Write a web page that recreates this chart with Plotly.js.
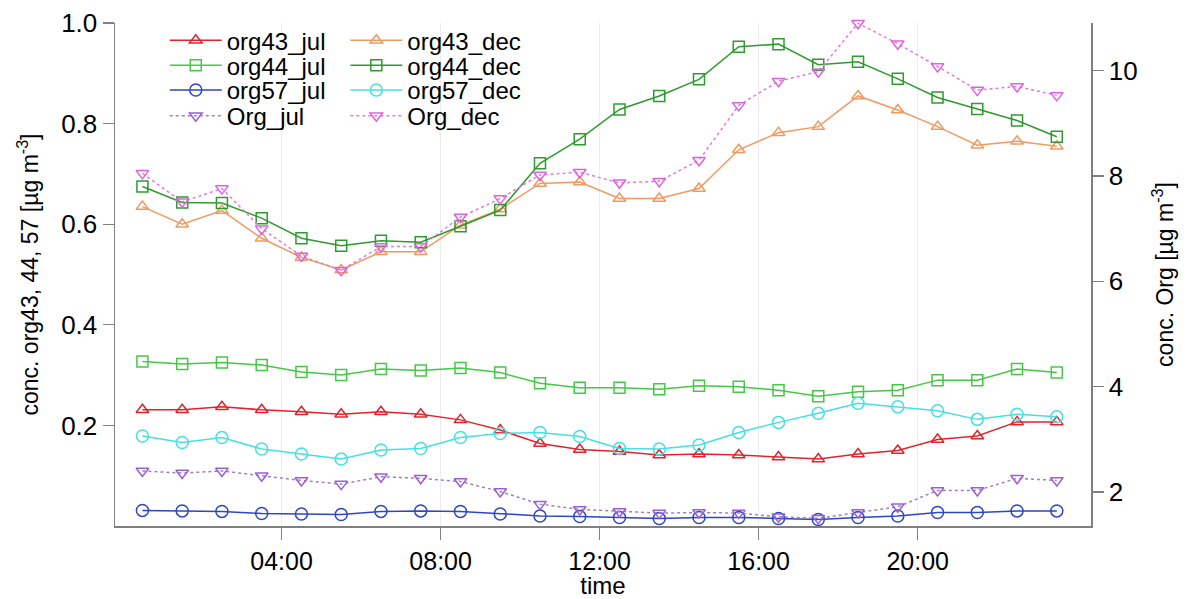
<!DOCTYPE html>
<html>
<head>
<meta charset="utf-8">
<script src="https://cdn.plot.ly/plotly-3.0.1.min.js"></script>
<style>
  html, body { margin: 0; padding: 0; background: #ffffff; }
  #chart { width: 1191px; height: 599px; }
</style>
</head>
<body>
<div id="chart"></div>
<script>
// Hour of day (half-hour bin centres)
const hours = [0.5, 1.5, 2.5, 3.5, 4.5, 5.5, 6.5, 7.5, 8.5, 9.5, 10.5, 11.5,
               12.5, 13.5, 14.5, 15.5, 16.5, 17.5, 18.5, 19.5, 20.5, 21.5, 22.5, 23.5];

const tickHours = [4, 8, 12, 16, 20];
const tickLabels = ['04:00', '08:00', '12:00', '16:00', '20:00'];

// Fragment concentrations, left axis [µg m-3]
const org43_jul = [0.231, 0.231, 0.237, 0.231, 0.227, 0.222, 0.227, 0.222, 0.211, 0.191, 0.164, 0.152,
                   0.148, 0.141, 0.143, 0.141, 0.137, 0.133, 0.143, 0.150, 0.172, 0.179, 0.207, 0.207];
const org43_dec = [0.635, 0.600, 0.627, 0.572, 0.534, 0.509, 0.545, 0.545, 0.598, 0.630, 0.681, 0.684,
                   0.651, 0.651, 0.671, 0.748, 0.782, 0.794, 0.855, 0.827, 0.794, 0.757, 0.765, 0.755];
const org44_jul = [0.327, 0.322, 0.325, 0.320, 0.306, 0.300, 0.312, 0.309, 0.314, 0.305, 0.284, 0.275,
                   0.275, 0.272, 0.279, 0.277, 0.270, 0.258, 0.267, 0.270, 0.290, 0.290, 0.312, 0.305];
const org44_dec = [0.675, 0.643, 0.642, 0.612, 0.572, 0.557, 0.567, 0.564, 0.596, 0.628, 0.721, 0.769,
                   0.828, 0.855, 0.888, 0.953, 0.958, 0.917, 0.923, 0.889, 0.852, 0.829, 0.806, 0.774];
const org57_jul = [0.031, 0.030, 0.029, 0.025, 0.024, 0.023, 0.029, 0.030, 0.029, 0.024, 0.020, 0.019,
                   0.017, 0.015, 0.017, 0.017, 0.015, 0.013, 0.017, 0.020, 0.027, 0.027, 0.030, 0.030];
const org57_dec = [0.179, 0.166, 0.176, 0.153, 0.143, 0.133, 0.151, 0.154, 0.176, 0.184, 0.186, 0.178,
                   0.154, 0.153, 0.161, 0.186, 0.206, 0.224, 0.244, 0.237, 0.229, 0.212, 0.222, 0.217];

// Total organics, right axis [µg m-3]
const Org_jul = [2.40, 2.36, 2.40, 2.31, 2.22, 2.15, 2.29, 2.26, 2.20, 2.01, 1.77, 1.67,
                 1.63, 1.60, 1.61, 1.60, 1.53, 1.50, 1.61, 1.72, 2.03, 2.03, 2.26, 2.22];
const Org_dec = [8.05, 7.51, 7.76, 7.00, 6.48, 6.21, 6.66, 6.66, 7.22, 7.57, 8.02, 8.07,
                 7.87, 7.90, 8.30, 9.34, 9.80, 9.98, 10.90, 10.51, 10.08, 9.63, 9.70, 9.53];

const FONT = 'Liberation Sans, Arial, Helvetica, sans-serif';

function series(name, y, color, symbol, size, opts) {
  opts = opts || {};
  return {
    type: 'scatter',
    mode: 'lines+markers',
    name: name,
    x: hours,
    y: y,
    yaxis: opts.right ? 'y2' : 'y',
    legend: opts.legend,
    cliponaxis: false,
    line: { color: opts.lineColor || color, width: 1.5, dash: opts.dash || 'solid' },
    marker: { symbol: symbol, size: size, color: color, line: { color: color, width: 1.5 } }
  };
}

const traces = [
  series('org43_jul', org43_jul, '#e0242c', 'triangle-up-open', 11, { legend: 'legend' }),
  series('org44_jul', org44_jul, '#45c845', 'square-open', 11, { legend: 'legend2' }),
  series('org57_jul', org57_jul, '#2e46c4', 'circle-open', 12, { legend: 'legend3' }),
  series('Org_jul', Org_jul, '#9a5fd6', 'triangle-down-open', 11, { legend: 'legend4', right: true, dash: 'dot', lineColor: '#9a82b8' }),
  series('org43_dec', org43_dec, '#ef9a62', 'triangle-up-open', 11, { legend: 'legend5' }),
  series('org44_dec', org44_dec, '#2f9a2f', 'square-open', 11, { legend: 'legend6' }),
  series('org57_dec', org57_dec, '#45e0e0', 'circle-open', 12, { legend: 'legend7' }),
  series('Org_dec', Org_dec, '#e062e0', 'triangle-down-open', 11, { legend: 'legend8', right: true, dash: 'dot', lineColor: '#e07ae0' })
];

// One legend per entry, laid out as two columns of four rows
const legendCols = [0.051, 0.236];
const legendRows = [0.965, 0.915, 0.866, 0.815];
function legendBox(col, row) {
  return {
    x: legendCols[col], y: legendRows[row],
    xanchor: 'left', yanchor: 'middle',
    bgcolor: 'rgba(0,0,0,0)', borderwidth: 0,
    itemwidth: 52,
    font: { family: FONT, size: 24, color: '#000000' }
  };
}

const layout = {
  width: 1191,
  height: 599,
  paper_bgcolor: '#ffffff',
  plot_bgcolor: '#ffffff',
  margin: { l: 115, r: 100, t: 23, b: 73 },
  font: { family: FONT, size: 23, color: '#000000' },
  showlegend: true,
  legend: legendBox(0, 0),
  legend2: legendBox(0, 1),
  legend3: legendBox(0, 2),
  legend4: legendBox(0, 3),
  legend5: legendBox(1, 0),
  legend6: legendBox(1, 1),
  legend7: legendBox(1, 2),
  legend8: legendBox(1, 3),
  xaxis: {
    range: [-0.19, 24.36],
    tickvals: tickHours,
    ticktext: tickLabels,
    ticks: 'outside', ticklen: 12, tickwidth: 1.2, tickcolor: '#808080',
    showline: true, linecolor: '#808080', linewidth: 1.5,
    showgrid: true, gridcolor: '#ececec', gridwidth: 1,
    zeroline: false,
    tickfont: { family: FONT, size: 25, color: '#000000' },
    title: { text: 'time', font: { family: FONT, size: 24, color: '#000000' }, standoff: 9 }
  },
  yaxis: {
    range: [0, 1.0],
    tickvals: [0.2, 0.4, 0.6, 0.8, 1.0],
    ticktext: ['0.2', '0.4', '0.6', '0.8', '1.0'],
    ticks: 'outside', ticklen: 11, tickwidth: 1.2, tickcolor: '#808080',
    showline: true, linecolor: '#808080', linewidth: 1.5,
    showgrid: false, zeroline: false,
    tickfont: { family: FONT, size: 26, color: '#000000' },
    title: { text: 'conc. org43, 44, 57 [µg m<sup>-3</sup>]', font: { family: FONT, size: 23, color: '#000000' }, standoff: 16 }
  },
  yaxis2: {
    overlaying: 'y',
    side: 'right',
    range: [1.355, 10.904],
    tickvals: [2, 4, 6, 8, 10],
    ticks: 'outside', ticklen: 11, tickwidth: 1.2, tickcolor: '#808080',
    showline: true, linecolor: '#808080', linewidth: 1.5,
    showgrid: false, zeroline: false,
    tickfont: { family: FONT, size: 26, color: '#000000' },
    title: { text: 'conc. Org [µg m<sup>-3</sup>]', font: { family: FONT, size: 23, color: '#000000' }, standoff: 20 }
  }
};

Plotly.newPlot('chart', traces, layout, { staticPlot: true, displayModeBar: false });
</script>
</body>
</html>
